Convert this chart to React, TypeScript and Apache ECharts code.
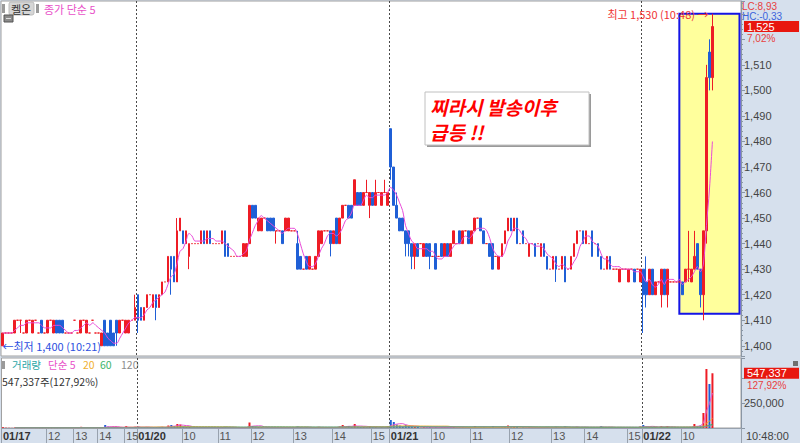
import React, { useEffect, useRef } from 'react';
import * as echarts from 'echarts';

// [open, close, low, high] per traded minute
const candles0117 = [
  [1400,1405,1400,1405],[1405,1405,1405,1405],[1405,1405,1405,1405],[1405,1405,1405,1405],[1405,1410,1405,1410],
  [1410,1410,1410,1410],[1410,1410,1405,1410],[1405,1405,1405,1405],[1405,1410,1405,1410],[1410,1410,1410,1410],
  [1405,1410,1405,1410],[1410,1410,1410,1410],[1405,1405,1405,1405],[1410,1405,1405,1410],[1405,1405,1405,1405],
  [1405,1410,1405,1410],[1410,1410,1410,1410],[1405,1410,1405,1410],[1410,1405,1405,1410],[1410,1405,1405,1410],
  [1410,1405,1405,1410],[1405,1405,1405,1405],[1405,1405,1405,1405],[1405,1405,1405,1405],[1410,1410,1410,1410],
  [1405,1405,1405,1405],[1405,1410,1405,1410],[1410,1410,1410,1410],[1405,1410,1405,1410],[1405,1405,1405,1405],
  [1410,1410,1410,1410],[1405,1405,1405,1405],[1405,1405,1405,1405],[1400,1405,1400,1405],[1410,1400,1400,1410],
  [1405,1400,1400,1405],[1410,1400,1400,1410],[1405,1400,1400,1405],[1410,1405,1400,1410],[1405,1410,1405,1410],
  [1410,1410,1410,1410],[1405,1410,1405,1410],[1405,1410,1405,1410],[1410,1410,1410,1410],[1410,1415,1410,1420],
];
const candles0120 = [
  [1420,1410,1405,1420],[1415,1410,1410,1415],[1410,1415,1410,1415],[1415,1420,1415,1420],[1420,1420,1420,1420],
  [1415,1420,1415,1420],[1420,1415,1410,1420],[1415,1420,1415,1420],[1420,1425,1420,1425],[1425,1425,1425,1425],
  [1425,1435,1425,1435],[1435,1430,1420,1435],[1435,1425,1425,1435],[1425,1445,1425,1450],[1445,1450,1445,1450],
  [1445,1440,1440,1445],[1440,1445,1440,1445],[1435,1440,1430,1440],[1440,1440,1440,1440],[1440,1440,1440,1440],
  [1440,1440,1440,1440],[1440,1445,1440,1445],[1445,1440,1440,1445],[1440,1445,1440,1445],[1445,1440,1440,1445],
  [1440,1440,1440,1440],[1440,1440,1440,1440],[1440,1440,1440,1440],[1440,1445,1440,1445],[1445,1435,1435,1445],
  [1440,1435,1435,1440],[1435,1435,1435,1435],[1435,1435,1435,1435],[1435,1435,1435,1435],[1435,1435,1435,1435],
  [1435,1440,1435,1440],[1435,1440,1435,1440],[1440,1455,1440,1455],[1455,1450,1450,1455],[1455,1450,1450,1455],
  [1445,1450,1445,1450],[1445,1450,1445,1450],[1450,1450,1450,1450],[1450,1445,1445,1450],[1450,1445,1445,1450],
  [1450,1445,1445,1450],[1445,1445,1440,1445],[1445,1445,1445,1445],[1445,1440,1440,1445],[1445,1450,1445,1450],
  [1445,1450,1445,1450],[1445,1445,1445,1445],[1445,1445,1445,1445],[1440,1430,1430,1445],[1435,1430,1430,1435],
  [1430,1430,1430,1430],[1435,1430,1430,1435],[1430,1435,1430,1435],[1430,1430,1430,1430],[1430,1435,1430,1435],
  [1435,1445,1435,1445],[1440,1445,1440,1445],[1445,1445,1445,1445],[1445,1445,1445,1445],[1445,1440,1435,1445],
  [1440,1445,1440,1445],[1450,1440,1440,1450],[1440,1450,1440,1450],[1450,1455,1450,1455],[1455,1455,1455,1455],
  [1455,1450,1450,1455],[1455,1450,1450,1455],[1455,1465,1455,1465],[1460,1455,1455,1460],[1460,1455,1455,1460],
  [1455,1460,1455,1460],[1460,1460,1460,1465],[1455,1460,1450,1460],[1460,1455,1455,1460],[1455,1460,1455,1465],
  [1460,1460,1460,1460],[1455,1460,1455,1460],[1460,1460,1460,1465],[1455,1460,1455,1460],
];
const candles0121 = [
  [1485,1470,1465,1485],[1470,1455,1455,1470],[1455,1450,1450,1460],[1450,1445,1445,1450],[1450,1445,1445,1450],
  [1445,1440,1435,1445],[1445,1440,1435,1445],[1440,1435,1430,1440],[1435,1440,1430,1440],[1440,1435,1435,1440],
  [1440,1440,1440,1440],[1435,1440,1435,1440],[1440,1435,1435,1440],[1440,1435,1430,1440],[1435,1435,1435,1435],
  [1440,1430,1430,1440],[1435,1435,1435,1435],[1440,1435,1435,1440],[1435,1440,1435,1440],[1440,1435,1435,1440],
  [1435,1440,1435,1440],[1440,1445,1440,1445],[1440,1440,1440,1440],[1445,1440,1440,1445],[1440,1445,1440,1445],
  [1445,1445,1445,1445],[1445,1440,1440,1445],[1440,1445,1440,1445],[1445,1450,1445,1450],[1450,1450,1450,1450],
  [1450,1445,1445,1450],[1445,1440,1440,1445],[1440,1440,1440,1440],[1440,1435,1435,1440],[1440,1430,1430,1440],
  [1435,1435,1435,1435],[1430,1435,1430,1435],[1435,1440,1435,1440],[1440,1445,1440,1445],[1445,1450,1445,1450],
  [1450,1445,1445,1450],[1445,1450,1445,1450],[1450,1440,1440,1450],[1440,1440,1440,1440],[1445,1440,1440,1445],
  [1440,1440,1440,1440],[1435,1440,1435,1440],[1440,1440,1440,1440],[1440,1435,1435,1440],[1440,1440,1440,1440],
  [1435,1440,1435,1440],[1440,1435,1435,1440],[1435,1430,1430,1435],[1430,1430,1430,1430],[1430,1435,1430,1435],
  [1435,1430,1425,1435],[1430,1430,1430,1430],[1430,1435,1430,1435],[1435,1425,1425,1435],[1430,1430,1430,1430],
  [1430,1435,1430,1435],[1435,1440,1435,1440],[1440,1445,1440,1445],[1445,1445,1445,1445],[1445,1440,1440,1445],
  [1440,1445,1440,1445],[1440,1440,1440,1440],[1445,1435,1435,1445],[1440,1440,1440,1440],[1440,1435,1435,1440],
  [1435,1430,1430,1435],[1430,1430,1430,1430],[1430,1435,1430,1435],[1435,1430,1430,1435],[1430,1430,1430,1430],
  [1430,1430,1430,1430],[1425,1430,1425,1430],[1430,1430,1430,1430],[1430,1430,1430,1430],[1425,1430,1425,1430],
  [1430,1430,1430,1430],[1430,1425,1425,1430],[1430,1430,1430,1430],[1425,1430,1425,1430],
];
const candles0122 = [
  [1430,1420,1405,1430],[1425,1420,1415,1435],[1420,1430,1420,1430],[1430,1420,1420,1430],[1420,1425,1420,1425],
  [1425,1425,1425,1425],[1420,1430,1415,1430],[1430,1420,1420,1430],[1420,1430,1415,1430],[1425,1425,1425,1425],
  [1425,1425,1425,1425],[1425,1425,1425,1425],[1425,1425,1425,1425],[1425,1420,1420,1425],[1425,1430,1425,1430],
  [1430,1430,1425,1445],[1425,1430,1425,1430],[1430,1435,1430,1445],[1440,1430,1430,1440],[1430,1420,1415,1430],
  [1420,1445,1410,1445],[1445,1505,1440,1510],[1515,1505,1500,1520],[1505,1525,1500,1530],
];

const volume0117 = [
  8000,3000,2000,1000,5000,2000,3000,1000,6000,2000,4000,1000,2000,5000,1000,4000,2000,3000,6000,5000,
  4000,1000,2000,1000,2000,1000,12000,3000,5000,2000,1000,2000,1000,8000,30000,15000,12000,10000,6000,8000,
  2000,20000,6000,3000,12000,
];
const volume0120 = [
  15000,8000,6000,10000,3000,6000,8000,9000,12000,4000,
  25000,30000,20000,40000,35000,15000,10000,12000,3000,2000,
  2000,8000,6000,5000,6000,2000,1000,2000,10000,12000,
  8000,2000,1000,2000,1000,6000,8000,55000,20000,15000,
  10000,8000,2000,9000,7000,6000,3000,2000,4000,8000,
  6000,2000,1000,15000,10000,2000,8000,5000,1000,6000,
  12000,6000,2000,1000,8000,6000,10000,15000,30000,8000,
  20000,12000,40000,15000,10000,12000,6000,18000,8000,10000,
  3000,8000,4000,15000,
];
const volume0121 = [
  80000,60000,35000,25000,15000,30000,20000,18000,12000,10000,
  3000,8000,6000,10000,2000,8000,2000,6000,8000,6000,
  5000,10000,2000,6000,8000,2000,5000,7000,20000,3000,
  8000,10000,2000,8000,20000,2000,6000,8000,10000,25000,
  8000,12000,18000,2000,6000,2000,8000,2000,6000,1000,
  5000,8000,10000,2000,6000,12000,2000,5000,15000,2000,
  6000,10000,12000,2000,6000,8000,1000,10000,2000,6000,
  18000,2000,6000,8000,2000,1000,6000,2000,1000,8000,
  2000,6000,1000,15000,
];
const volume0122 = [
  30000,15000,12000,10000,8000,2000,18000,10000,20000,2000,
  1000,2000,1000,6000,8000,10000,8000,40000,20000,25000,
  150000,590000,440000,547337,
];

// x-axis tick labels (index of traded minute where each label starts)
const tickIndex = [0, 15, 24, 32, 41, 45, 60, 72, 83, 97, 110, 123, 129, 143, 156, 169, 183, 194, 208, 213, 226];
const tickLabels = ['01/17', '12', '13', '14', '15', '01/20', '10', '11', '12', '13', '14', '15', '01/21', '10', '11', '12', '13', '14', '15', '01/22', '10'];
const dayStartIndex = [45, 129, 213];
const slotCount = 246;

const stockName = '켈온';
const highTime = '10:48';
const lowTime = '10:21';
const lcText = 'LC:8,93';
const hcText = 'HC:-0,33';
const changeText = '7,02%';
const volumeRatioText = '127,92%';
const volumeSummary = '547,337주(127,92%)';
const lastTimeText = '10:48:00';
const noteLines = ['찌라시 발송이후', '급등 !!'];
const highlightStart = '225';
const highlightEnd = '245';
const highlightLow = 1412.5;
const highlightHigh = 1530;

const UP = '#ee1c25';
const DOWN = '#1f5fd6';
const FONT = '"Noto Sans CJK KR", "Noto Sans", sans-serif';
const NUM = '"Liberation Sans", Arial, sans-serif';

function movingAverage(values: number[], n: number) {
  return values.map((_, i) => {
    const s = Math.max(0, i - n + 1);
    let sum = 0;
    for (let k = s; k <= i; k++) sum += values[k];
    return +(sum / (i - s + 1)).toFixed(2);
  });
}
const fmt = (v: number) => Math.round(v).toLocaleString('en-US');

export default function App() {
  const ref = useRef<HTMLDivElement>(null);
  useEffect(() => {
    document.body.style.margin = '0';
    const chart = echarts.init(ref.current!, undefined, { renderer: 'svg' });
    const candles = [...candles0117, ...candles0120, ...candles0121, ...candles0122];
    const volumes = [...volume0117, ...volume0120, ...volume0121, ...volume0122];
    const closes = candles.map((c) => c[1]);
    const signs = candles.map((c, i) =>
      c[1] > c[0] ? 1 : c[1] < c[0] ? -1 : i > 0 && candles[i - 1][1] > c[1] ? -1 : 1
    );
    const categories = Array.from({ length: slotCount }, (_, i) => String(i));
    const lastClose = closes[closes.length - 1];
    const lastVolume = volumes[volumes.length - 1];
    const volMA = (n: number) => {
      const m = movingAverage(volumes, n);
      return m.map((v, i) => (i >= Math.min(n - 1, 4) ? v : '-'));
    };
    const tickFn = (i: number) => tickIndex.includes(i);
    const dayFn = (i: number) => dayStartIndex.includes(i);
    const baseX = {
      type: 'category',
      data: categories,
      boundaryGap: true,
      splitLine: { show: true, interval: dayFn, lineStyle: { color: '#4a4a4a', type: [2, 2], width: 1 } },
    };
    const priceTag = (text: string) => ({
      show: true,
      position: 'end',
      distance: 3,
      formatter: () => text,
      color: '#ffffff',
      backgroundColor: '#e8170f',
      padding: [0, 2, 0, 3],
      width: 50,
      height: 11,
      lineHeight: 11,
      fontSize: 11,
      fontFamily: NUM,
      align: 'left',
    });
    const legendText = (x: number, y: number, text: string, fill: string, size = 11) => ({
      type: 'text',
      x,
      y,
      style: { text, fill, fontSize: size, lineHeight: 12, fontFamily: FONT, verticalAlign: 'middle' },
    });
    const noteText = (y: number, text: string) => ({
      type: 'text',
      x: 430,
      y,
      style: {
        text,
        fill: '#ff0000',
        fontSize: 19,
        fontWeight: 'bold',
        fontStyle: 'italic',
        lineHeight: 22,
        fontFamily: FONT,
        verticalAlign: 'middle',
      },
    });

    chart.setOption({
      animation: false,
      backgroundColor: '#d6e0ed',
      textStyle: { fontFamily: FONT },
      grid: [
        { left: 1, top: 1, width: 740, height: 355, show: true, backgroundColor: '#ffffff', borderColor: '#a0a0a0', borderWidth: 1 },
        { left: 1, top: 358, width: 740, height: 70, show: true, backgroundColor: '#ffffff', borderColor: '#a0a0a0', borderWidth: 1 },
      ],
      xAxis: [
        { ...baseX, gridIndex: 0, axisLine: { show: false }, axisTick: { show: false }, axisLabel: { show: false } },
        {
          ...baseX,
          gridIndex: 1,
          axisLine: { show: true, lineStyle: { color: '#98a2ae' } },
          axisTick: { show: true, interval: tickFn, length: 15, lineStyle: { color: '#98a2ae' } },
          axisLabel: {
            show: true,
            interval: tickFn,
            align: 'left',
            margin: 2,
            formatter: (_v: string, i: number) => {
              const k = tickIndex.indexOf(i);
              if (k < 0) return '';
              const t = tickLabels[k];
              return t.includes('/') ? `{d|${t}}` : `{n|${t}}`;
            },
            rich: {
              d: { fontWeight: 'bold', fontSize: 11, lineHeight: 12, color: '#333', fontFamily: NUM },
              n: { fontSize: 11, lineHeight: 12, color: '#555', fontFamily: NUM },
            },
          },
        },
      ],
      yAxis: [
        {
          gridIndex: 0,
          type: 'value',
          position: 'right',
          min: 1396,
          max: 1535,
          splitNumber: 14,
          splitLine: { show: false },
          axisLine: { show: true, lineStyle: { color: '#8a96a4' } },
          axisTick: { show: true, length: 4, lineStyle: { color: '#8a96a4' } },
          minorTick: { show: true, splitNumber: 5, length: 2, lineStyle: { color: '#8a96a4' } },
          axisLabel: {
            margin: 3,
            color: '#444',
            fontSize: 11,
            fontFamily: NUM,
            formatter: (v: number) => (v % 10 === 0 && v >= 1400 && v <= 1510 ? fmt(v) : ''),
          },
        },
        {
          gridIndex: 1,
          type: 'value',
          position: 'right',
          min: 0,
          max: 700000,
          interval: 250000,
          splitLine: { show: false },
          axisLine: { show: true, lineStyle: { color: '#8a96a4' } },
          axisTick: { show: true, length: 4, lineStyle: { color: '#8a96a4' } },
          axisLabel: {
            margin: 3,
            color: '#444',
            fontSize: 11,
            fontFamily: NUM,
            formatter: (v: number) => (v === 250000 ? fmt(v) : ''),
          },
        },
      ],
      series: [
        {
          type: 'candlestick',
          xAxisIndex: 0,
          yAxisIndex: 0,
          data: candles,
          barWidth: 2.2,
          itemStyle: { color: UP, color0: DOWN, borderColor: UP, borderColor0: DOWN, borderColorDoji: UP, borderWidth: 1 },
          markArea: {
            silent: true,
            itemStyle: { color: '#ffff9c', borderColor: '#1414e6', borderWidth: 2 },
            data: [[{ xAxis: highlightStart, yAxis: highlightLow }, { xAxis: highlightEnd, yAxis: highlightHigh }]],
          },
          markPoint: {
            silent: true,
            symbol: 'circle',
            symbolSize: 0,
            data: [
              {
                type: 'max',
                valueDim: 'highest',
                label: {
                  show: true,
                  position: 'left',
                  distance: 4,
                  color: '#f03434',
                  fontSize: 11,
                  fontFamily: FONT,
                  formatter: (p: any) => `최고 ${fmt(p.value)} (${highTime}) →`,
                },
              },
              {
                type: 'min',
                valueDim: 'lowest',
                label: {
                  show: true,
                  position: 'right',
                  distance: 0,
                  color: '#2c4fe0',
                  fontSize: 11,
                  fontFamily: FONT,
                  formatter: (p: any) => `←최저 ${fmt(p.value)} (${lowTime})`,
                },
              },
            ],
          },
          markLine: {
            silent: true,
            symbol: ['none', 'none'],
            lineStyle: { color: 'transparent', width: 0 },
            data: [{ yAxis: lastClose }],
            label: priceTag(fmt(lastClose)),
          },
        },
        {
          type: 'line',
          xAxisIndex: 0,
          yAxisIndex: 0,
          data: movingAverage(closes, 5),
          symbol: 'none',
          smooth: 0.3,
          lineStyle: { color: '#e84ad8', width: 1 },
          z: 3,
        },
        {
          type: 'bar',
          xAxisIndex: 1,
          yAxisIndex: 1,
          barWidth: 2,
          data: volumes.map((v, i) => ({ value: v, itemStyle: { color: signs[i] > 0 ? UP : DOWN } })),
          markLine: {
            silent: true,
            symbol: ['none', 'none'],
            lineStyle: { color: 'transparent', width: 0 },
            data: [{ yAxis: lastVolume }],
            label: priceTag(fmt(lastVolume)),
          },
        },
        { type: 'line', xAxisIndex: 1, yAxisIndex: 1, data: volMA(5), symbol: 'none', lineStyle: { color: '#e456cc', width: 1 } },
        { type: 'line', xAxisIndex: 1, yAxisIndex: 1, data: volMA(20), symbol: 'none', lineStyle: { color: '#f0b030', width: 1 } },
        { type: 'line', xAxisIndex: 1, yAxisIndex: 1, data: volMA(60), symbol: 'none', lineStyle: { color: '#3cb46a', width: 1 } },
        { type: 'line', xAxisIndex: 1, yAxisIndex: 1, data: volMA(120), symbol: 'none', lineStyle: { color: '#909090', width: 1 } },
      ],
      graphic: [
        { type: 'rect', shape: { x: 2, y: 4, width: 3, height: 9 }, style: { fill: '#9a9a9a' } },
        { type: 'rect', shape: { x: 9, y: 2, width: 25, height: 13, r: 2 }, style: { fill: '#d6d6d6', stroke: '#bcbcbc' } },
        legendText(11, 9, stockName, '#333'),
        { type: 'rect', shape: { x: 36, y: 4, width: 3, height: 9 }, style: { fill: '#9a9a9a' } },
        legendText(44, 9, '종가 단순 5', '#e850c8'),
        { type: 'rect', shape: { x: 4, y: 15, width: 9, height: 7 }, style: { fill: '#8a8a8a', stroke: '#555' } },
        { type: 'line', shape: { x1: 6, y1: 18.5, x2: 11, y2: 18.5 }, style: { stroke: '#dddddd', lineWidth: 1 } },

        { type: 'rect', shape: { x: 427, y: 94, width: 164, height: 53 }, style: { fill: '#9a9a9a' } },
        { type: 'rect', shape: { x: 425, y: 92, width: 164, height: 53 }, style: { fill: '#ffffff', stroke: '#c0c0c0', lineWidth: 1 } },
        noteText(106, noteLines[0]),
        noteText(131, noteLines[1]),

        { type: 'text', x: 742, y: 6, style: { text: lcText, fill: '#e84040', fontSize: 10, fontFamily: NUM, verticalAlign: 'middle' } },
        { type: 'text', x: 742, y: 16, style: { text: hcText, fill: '#3c64dc', fontSize: 10, fontFamily: NUM, verticalAlign: 'middle' } },
        { type: 'text', x: 747, y: 38, style: { text: changeText, fill: '#e84040', fontSize: 10, fontFamily: NUM, verticalAlign: 'middle' } },
        { type: 'text', x: 747, y: 385, style: { text: volumeRatioText, fill: '#e84040', fontSize: 10, fontFamily: NUM, verticalAlign: 'middle' } },
        { type: 'rect', shape: { x: 793, y: 361, width: 5, height: 5 }, style: { fill: '#707070' } },

        { type: 'rect', shape: { x: 2, y: 361, width: 3, height: 8 }, style: { fill: '#9a9a9a' } },
        legendText(12, 364.5, '거래량', '#2aa6a6', 10.5),
        legendText(48, 364.5, '단순 5', '#e850c8', 10.5),
        legendText(83, 364.5, '20', '#f0b030', 10.5),
        legendText(100, 364.5, '60', '#3cb46a', 10.5),
        legendText(121, 364.5, '120', '#8c8c8c', 10.5),
        legendText(2, 381, volumeSummary, '#333', 10.5),

        { type: 'line', shape: { x1: 741.5, y1: 428, x2: 741.5, y2: 443 }, style: { stroke: '#98a2ae', lineWidth: 1 } },
        { type: 'text', x: 746, y: 436, style: { text: lastTimeText, fill: '#444', fontSize: 11, fontFamily: NUM, verticalAlign: 'middle' } },
      ],
    });
    return () => chart.dispose();
  }, []);
  return <div ref={ref} style={{ position: 'absolute', left: 0, top: 0, width: 800, height: 443 }} />;
}
